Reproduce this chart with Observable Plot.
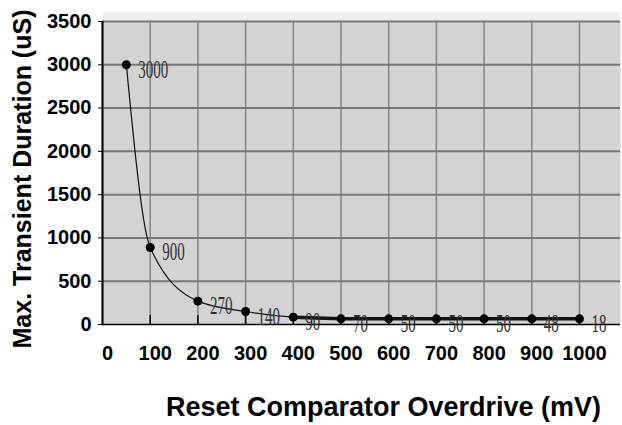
<!DOCTYPE html>
<html><head><meta charset="utf-8">
<script src="https://cdn.jsdelivr.net/npm/d3@7"></script>
<script src="https://cdn.jsdelivr.net/npm/@observablehq/plot@0.6"></script>
<style>body{margin:0;background:#fff} svg{display:block}</style>
</head><body><div id="chart"></div>
<script>
const overdrive = [50, 100, 200, 300, 400, 500, 600, 700, 800, 900, 1000];
const duration = [3000, 890, 270, 150, 85, 65, 65, 65, 65, 65, 65];
const pointLabels = ["3000", "900", "270", "140", "90", "70", "50", "50", "50", "48", "18"];
const xTicks = [0, 100, 200, 300, 400, 500, 600, 700, 800, 900, 1000];
const yTicks = [0, 500, 1000, 1500, 2000, 2500, 3000, 3500];
const xDomain = [0, 1086];
const yDomain = [0, 3500];
const xTitle = "Reset Comparator Overdrive (mV)";
const yTitle = "Max. Transient Duration (uS)";

const data = overdrive.map((x, i) => ({x, y: duration[i], label: pointLabels[i]}));
const W = 622, H = 425, mT = 21, mB = 101, mL = 102, mR = 2;
const frameH = H - mT - mB;

const chart = Plot.plot({
  width: W, height: H,
  marginLeft: mL, marginRight: mR, marginTop: mT, marginBottom: mB,
  x: {domain: xDomain, axis: null},
  y: {domain: yDomain, axis: null},
  style: {fontFamily: "'Liberation Sans', Arial, sans-serif", background: "white", color: "black"},
  marks: [
    Plot.rect([yDomain[1]], {x1: xDomain[0], x2: xDomain[1], y1: d => d, y2: d => d * 1.0286, fill: "#eeeeee"}),
    Plot.frame({fill: "#d3d3d3"}),
    Plot.gridX(xTicks, {stroke: "#858585", strokeOpacity: 1, strokeWidth: 1.5}),
    Plot.gridY(yTicks.slice(1), {stroke: "#777777", strokeOpacity: 1, strokeWidth: 2}),
    Plot.tickX(xTicks.slice(1), {x: d => d, insetTop: frameH - 9, stroke: "black", strokeWidth: 1.5}),
    Plot.axisY(yTicks, {tickSize: 4, tickPadding: 7, fontSize: 20, fontWeight: "bold", label: null, tickFormat: d => String(d)}),
    Plot.axisX(xTicks, {tickSize: 0, tickPadding: 21, fontSize: 20, fontWeight: "bold", dx: 5, label: null, tickFormat: d => String(d)}),
    Plot.ruleX([xDomain[0]], {stroke: "black", strokeWidth: 2}),
    Plot.ruleY([yDomain[0]], {stroke: "black", strokeWidth: 1.5}),
    Plot.line(data, {x: "x", y: "y", curve: "monotone-x", stroke: "#111", strokeWidth: 1.2}),
    Plot.line(data.filter(d => d.x >= 400), {x: "x", y: "y", stroke: "#111", strokeWidth: 3.5}),
    Plot.dot(data, {x: "x", y: "y", r: 4.5, fill: "#000"}),
    Plot.text(data, {x: "x", y: "y", text: "label", textAnchor: "start", dx: 12, dy: 5, fontSize: 25, fontFamily: "'Liberation Serif', serif", fill: "#333", ariaDescription: "point-labels"}),
    Plot.text([yTitle], {frameAnchor: "left", textAnchor: "middle", lineAnchor: "middle", rotate: -90, dx: -80, dy: 6, fontSize: 25, fontWeight: "bold", fill: "#000"}),
    Plot.text([xTitle], {frameAnchor: "bottom", textAnchor: "middle", lineAnchor: "middle", dx: 22, dy: 83, fontSize: 27, fontWeight: "bold", fill: "#000"})
  ]
});
d3.select(chart).selectAll("g[aria-description='point-labels'] text").each(function () {
  const t = this.getAttribute("transform") || "";
  this.setAttribute("transform", t + " scale(0.6,1)");
});
document.getElementById("chart").append(chart);
</script>
</body></html>
